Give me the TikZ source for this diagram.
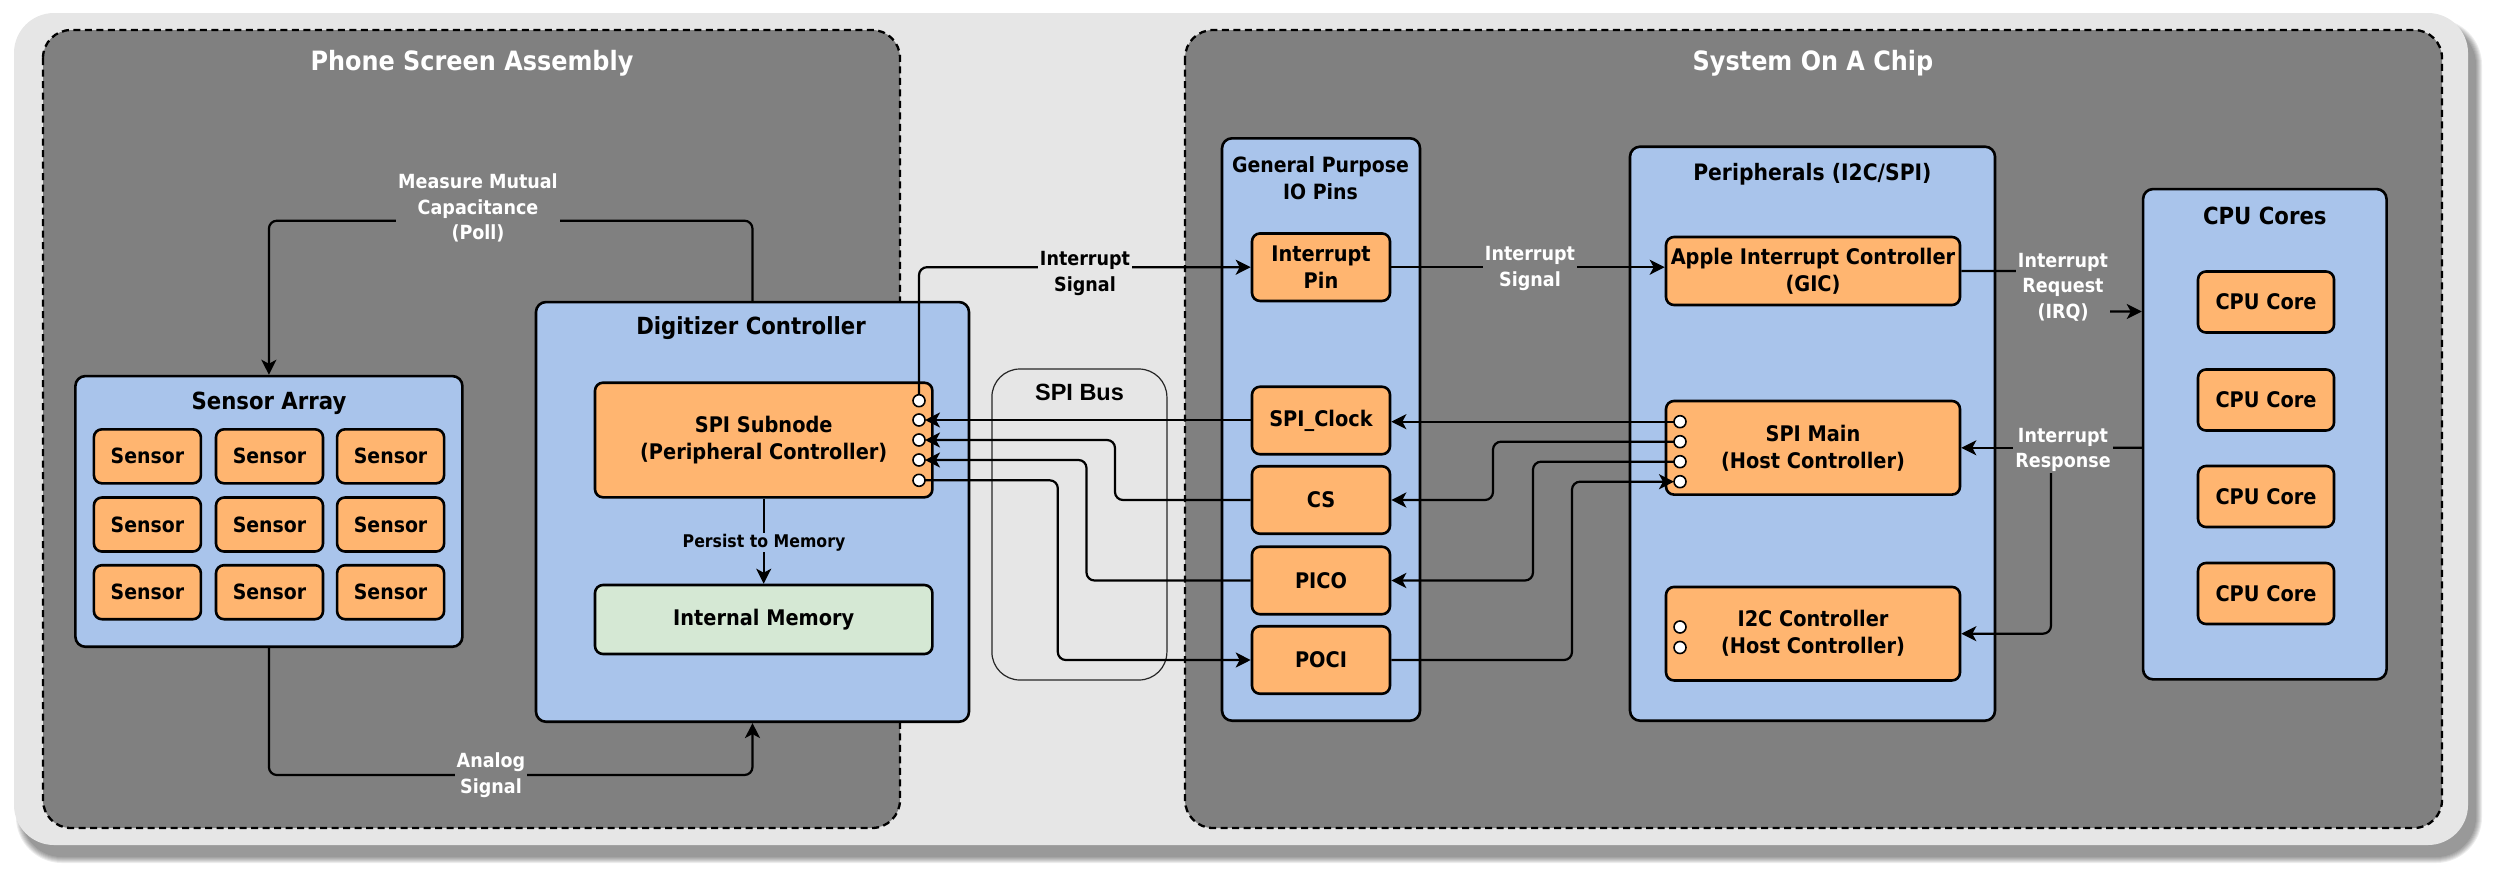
\documentclass[tikz,border=0pt]{standalone}
\usepackage{fontspec}
\setmainfont[FakeStretch=0.9]{DejaVu Sans}
\newfontfamily\busfont{Liberation Sans}
\usetikzlibrary{arrows.meta}
\definecolor{bgout}{HTML}{E6E6E6}
\definecolor{zone}{HTML}{808080}
\definecolor{blu}{HTML}{A9C4EB}
\definecolor{org}{HTML}{FFB570}
\definecolor{grn}{HTML}{D5E8D4}
\begin{document}
\begin{tikzpicture}[x=1pt,y=-1pt,line join=round,
  zonebox/.style={draw=black,fill=zone,line width=2.3pt,dash pattern=on 7pt off 4.5pt,rounded corners=28pt},
  cont/.style={draw=black,fill=blu,line width=2.6pt,rounded corners=10pt,inner sep=0pt},
  obox/.style={draw=black,fill=org,line width=2.6pt,rounded corners=8pt,inner sep=0pt,align=center,font=\bfseries\fontsize{21.5}{27}\selectfont},
  gbox/.style={obox,fill=grn},
  sens/.style={obox,minimum width=107pt,minimum height=54pt,font=\bfseries\fontsize{21}{26}\selectfont},
  core/.style={obox,minimum width=136pt,minimum height=61pt},
  pin/.style={obox,minimum width=138pt,minimum height=67.5pt},
  port/.style={circle,draw=black,fill=white,line width=1.6pt,minimum size=12pt,inner sep=0pt},
  ztitle/.style={text=white,font=\bfseries\fontsize{26.6}{32}\selectfont},
  ctitle/.style={font=\bfseries\fontsize{23.6}{28}\selectfont,align=center},
  conn/.style={draw=black,line width=2.2pt,rounded corners=8pt},
  arr/.style={-{Stealth[length=15pt,width=15pt,inset=4pt]}},
  wlab/.style={fill=zone,text=white,inner xsep=2pt,inner ysep=1pt,align=center,font=\bfseries\fontsize{19.5}{25.5}\selectfont},
  blab/.style={wlab,fill=bgout,text=black},
  plab/.style={wlab,fill=blu,text=black,font=\bfseries\fontsize{17.5}{22}\selectfont}
]
\useasboundingbox (0,0) rectangle (2500,876);
% outer background with shadow
\foreach \d in {0,...,6} {
  \fill[black,opacity=0.07,rounded corners={40pt+\d pt}] ({22-\d},{25-\d}) rectangle ({2476+\d},{857+\d});
}
\fill[bgout,rounded corners=40pt] (14,13) rectangle (2468,845);
% zones
\draw[zonebox] (43,30) rectangle (900,828);
\draw[zonebox] (1185,30) rectangle (2442,828);
\node[ztitle] (tpsa) at (472,63) {Phone Screen Assembly};
\node[ztitle] (tsoc) at (1813,63) {System On A Chip};
% SPI bus
\node[draw=black!85,fill=bgout,line width=1.2pt,rounded corners=28pt,minimum width=175pt,minimum height=311pt,inner sep=0pt] (bus) at (1079.4,524.5) {};
\node[font=\busfont\bfseries\fontsize{23.5}{28}\selectfont] (tbus) at (1079.5,392.7) {SPI Bus};
% containers
\node[cont,minimum width=387pt,minimum height=270.7pt] (sarr) at (268.9,511.4) {};
\node[cont,minimum width=433pt,minimum height=419.7pt] (dig) at (752.5,511.9) {};
\node[cont,minimum width=198pt,minimum height=582.4pt] (gpio) at (1321,429.5) {};
\node[cont,minimum width=365pt,minimum height=574pt] (peri) at (1812.5,433.7) {};
\node[cont,minimum width=243.5pt,minimum height=490.3pt] (cores) at (2264.8,434.2) {};
\node[ctitle] (tsarr) at (269,403) {Sensor Array};
\node[ctitle] (tdig) at (751,328) {Digitizer Controller};
\node[ctitle,font=\bfseries\fontsize{21}{27}\selectfont] (tgpio) at (1320.5,178.5) {General Purpose\\IO Pins};
\node[ctitle,font=\bfseries\fontsize{22.6}{28}\selectfont] (tperi) at (1812.4,174) {Peripherals (I2C/SPI)};
\node[ctitle] (tcores) at (2264.8,215.7) {CPU Cores};
% sensors
\foreach \r/\yy in {1/456.3,2/524.5,3/592.2}{
  \foreach \c/\xx in {1/147.4,2/269.5,3/390.6}{
    \node[sens] (s\r\c) at (\xx,\yy) {Sensor};
  }
}
% digitizer internals
\node[obox,minimum width=337.4pt,minimum height=114.6pt] (sub) at (763.7,440) {SPI Subnode\\(Peripheral Controller)};
\node[gbox,minimum width=337.4pt,minimum height=69pt] (mem) at (763.7,619.5) {Internal Memory};
% pins
\node[pin] (ipin) at (1321,267.2) {Interrupt\\Pin};
\node[pin] (clk) at (1321,420.5) {SPI\_Clock};
\node[pin] (cs) at (1321,500) {CS};
\node[pin] (pico) at (1321,580.5) {PICO};
\node[pin] (poci) at (1321,660) {POCI};
% peripherals
\node[obox,minimum width=294pt,minimum height=68pt] (gic) at (1813,271) {Apple Interrupt Controller\\(GIC)};
\node[obox,minimum width=294pt,minimum height=93.6pt] (smain) at (1813,447.8) {SPI Main\\(Host Controller)};
\node[obox,minimum width=294pt,minimum height=93.5pt] (i2c) at (1813,633.7) {I2C Controller\\(Host Controller)};
% cpu cores
\foreach \i/\yy in {1/302,2/400,3/496.5,4/593.5}{
  \node[core] (c\i) at (2266,\yy) {CPU Core};
}
% port coordinates
\coordinate (sp1) at (919,400.7);
\coordinate (sp2) at (919,420);
\coordinate (sp3) at (919,440);
\coordinate (sp4) at (919,460);
\coordinate (sp5) at (919,480.3);
\coordinate (mp1) at (1680,421.7);
\coordinate (mp2) at (1680,441.7);
\coordinate (mp3) at (1680,461.7);
\coordinate (mp4) at (1680,481.7);
% connectors in PSA
\draw[conn,arr] (dig.north) |- (268.9,220.7) -- (sarr.north);
\draw[conn,arr] (sarr.south) |- (752.5,775) -- (dig.south);
\draw[conn,arr] (sub.south) -- (mem.north);
% SPI lines
\draw[conn,arr] ([yshift=-6pt]sp1) |- (ipin.west);
\draw[conn,arr] ([xshift=-6pt]mp1) -- (mp1 -| clk.east);
\draw[conn,arr] (sp2 -| clk.west) -- ([xshift=6pt]sp2);
\draw[conn,arr] ([xshift=-6pt]mp2) -| (1493,500) -- (cs.east);
\draw[conn,arr] (cs.west) -| (1115,440) -- ([xshift=6pt]sp3);
\draw[conn,arr] ([xshift=-6pt]mp3) -| (1533,580.5) -- (pico.east);
\draw[conn,arr] (pico.west) -| (1086.5,460) -- ([xshift=6pt]sp4);
\draw[conn,arr] ([xshift=6pt]sp5) -| (1057.8,660) -- (poci.west);
\draw[conn,arr] (poci.east) -| (1572,481.7) -- ([xshift=-6pt]mp4);
% interrupt chain
\draw[conn,arr] (ipin.east) -- (ipin.east -| gic.west);
\draw[conn,arr] (gic.east) -| (2063,311.5) -- ([yshift=122.7pt]cores.west);
\draw[conn,arr] (cores.west |- smain.east) -- (smain.east);
\draw[conn,arr] (cores.west |- smain.east) -- (2051,447.8) |- (i2c.east);
% ports
\foreach \p in {sp1,sp2,sp3,sp4,sp5,mp1,mp2,mp3,mp4}{
  \node[port] (\p c) at (\p) {};
}
\node[port] (ip1) at (1680,627) {};
\node[port] (ip2) at (1680,647.5) {};
% labels
\node[wlab] (lpoll) at (478,208) {Measure Mutual\\Capacitance\\(Poll)};
\node[wlab] (lana) at (491,775) {Analog\\Signal};
\node[plab] (lper) at (764,542.7) {Persist to Memory};
\node[blab] (lint1) at (1085,273.5) {Interrupt\\Signal};
\node[wlab] (lint2) at (1530,268.3) {Interrupt\\Signal};
\node[wlab] (lirq) at (2063,287) {Interrupt\\Request\\(IRQ)};
\node[wlab] (lresp) at (2063,450) {Interrupt\\Response};
\end{tikzpicture}
\end{document}
